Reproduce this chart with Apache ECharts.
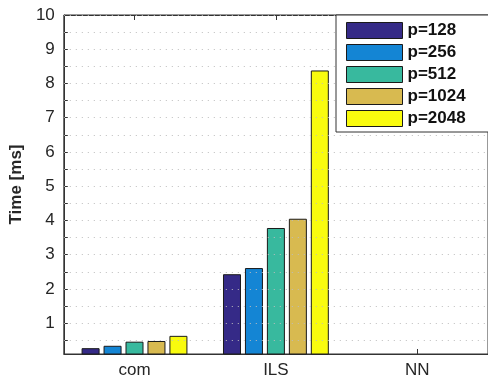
<!DOCTYPE html>
<html>
<head>
<meta charset="utf-8">
<script src="https://cdn.jsdelivr.net/npm/echarts@6/dist/echarts.min.js"></script>
<style>html,body{margin:0;padding:0;background:#fff}#c{width:488px;height:379px}</style>
</head>
<body>
<div id="c"></div>
<script>
const categories = ['com', 'ILS', 'NN'];
const seriesNames = ['p=128', 'p=256', 'p=512', 'p=1024', 'p=2048'];
const p128 = [0.27, 2.43, 0.05];
const p256 = [0.34, 2.61, 0.05];
const p512 = [0.46, 3.78, 0.05];
const p1024 = [0.48, 4.05, 0.05];
const p2048 = [0.63, 8.38, 0.05];
const colors = ['#352a87', '#1485d4', '#38b99e', '#d8ba50', '#f9fb0e'];
const yLabels = [1, 2, 3, 4, 5, 6, 7, 8, 9, 10];
const yTicks = [0.5, 1, 1.5, 2, 2.5, 3, 3.5, 4, 4.5, 5, 5.5, 6, 6.5, 7, 7.5, 8, 8.5, 9, 9.5, 10];
const yName = 'Time [ms]';

const values = [p128, p256, p512, p1024, p2048];
const txt = '#262626';
const font = 'Liberation Sans, Arial, Helvetica, sans-serif';

const gridSeries = {
  name: 'grid', type: 'line', data: [], z: 1, silent: true,
  markLine: {
    silent: true, symbol: ['none', 'none'], label: {show: false}, animation: false,
    lineStyle: {color: '#bdbdbd', type: [1, 5], width: 1},
    data: yTicks.map(v => ({yAxis: v}))
  }
};

const chart = echarts.init(document.getElementById('c'), null, {renderer: 'canvas'});
chart.setOption({
  animation: false,
  backgroundColor: '#fff',
  grid: {left: 63, right: -5, top: 15, bottom: 25, show: true, borderColor: '#333', borderWidth: 1, backgroundColor: 'transparent'},
  legend: {
    left: 336, top: 15, orient: 'vertical', z: 100, zlevel: 1,
    icon: 'rect',
    itemWidth: 56, itemHeight: 16, itemGap: 5,
    padding: [7, 60, 5, 10],
    borderColor: '#333', borderWidth: 1, backgroundColor: '#fff',
    itemStyle: {borderColor: '#1a1a1a', borderWidth: 1},
    textStyle: {fontFamily: font, fontWeight: 'bold', fontSize: 17, lineHeight: 16, height: 16, color: '#111'},
    data: seriesNames
  },
  xAxis: [{
    type: 'category', data: categories, position: 'bottom',
    axisLine: {onZero: false, lineStyle: {color: '#333', width: 1}},
    axisTick: {show: true, inside: true, length: 5, alignWithLabel: true, lineStyle: {color: '#333'}},
    axisLabel: {fontFamily: font, fontSize: 17, color: txt, margin: 8},
    splitLine: {show: false}
  }, {
    type: 'category', data: categories, position: 'top',
    axisLine: {show: true, lineStyle: {color: '#333', width: 1}},
    axisTick: {show: true, inside: true, length: 5, alignWithLabel: true, lineStyle: {color: '#333'}},
    axisLabel: {show: false},
    splitLine: {show: false}
  }],
  yAxis: {
    type: 'value', min: 0.1, max: 10,
    name: yName, nameLocation: 'middle', nameGap: 37,
    nameTextStyle: {fontFamily: font, fontWeight: 'bold', fontSize: 17, color: txt},
    axisLine: {show: true, lineStyle: {color: '#333', width: 1}},
    axisTick: {show: true, inside: true, length: 4, customValues: yTicks, lineStyle: {color: '#333'}},
    axisLabel: {fontFamily: font, fontSize: 17, color: txt, margin: 9, customValues: yLabels},
    splitLine: {show: false}
  },
  series: [gridSeries].concat(seriesNames.map((n, i) => ({
    name: n, type: 'bar', data: values[i], z: 2,
    barWidth: 18, barGap: '22%',
    itemStyle: {color: colors[i], borderColor: '#1a1a1a', borderWidth: 1}
  })))
});
</script>
</body>
</html>
